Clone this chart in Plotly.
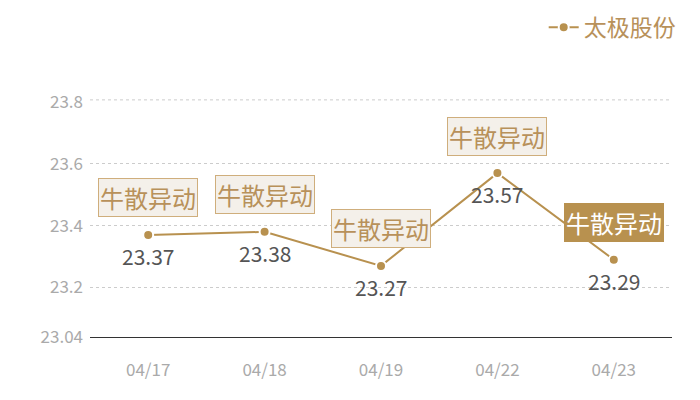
import plotly.graph_objects as go

dates = ["04/17", "04/18", "04/19", "04/22", "04/23"]
prices = [23.37, 23.38, 23.27, 23.57, 23.29]
tags = ["牛散异动", "牛散异动", "牛散异动", "牛散异动", "牛散异动"]
highlight = [False, False, False, False, True]
series_name = "太极股份"
y_ticks = [23.04, 23.2, 23.4, 23.6, 23.8]
y_tick_text = ["23.04", "23.2", "23.4", "23.6", "23.8"]

GOLD = "#b8914f"
FONT = "Noto Sans CJK SC"

fig = go.Figure()
fig.add_trace(go.Scatter(
    x=dates, y=prices, mode="lines+markers", name=series_name,
    line=dict(color=GOLD, width=2),
    marker=dict(color=GOLD, size=10, line=dict(color="white", width=2)),
    cliponaxis=False,
))

annotations = []
for d, p in zip(dates, prices):
    annotations.append(dict(
        x=d, y=p, xref="x", yref="y", text=f"{p:.2f}", showarrow=False,
        yshift=-21, font=dict(family=FONT, size=21, color="#555555"),
    ))
for d, p, t, h in zip(dates, prices, tags, highlight):
    annotations.append(dict(
        x=d, y=p, xref="x", yref="y", text=t, showarrow=False,
        yshift=37,
        font=dict(family=FONT, size=24, color="white" if h else "#b8915a"),
        bgcolor=GOLD if h else "#f4f0ea",
        bordercolor=GOLD if h else "#cfae7c",
        borderwidth=1, borderpad=1,
    ))

fig.update_layout(
    width=700, height=400,
    margin=dict(l=82, r=36, t=94, b=71),
    paper_bgcolor="white", plot_bgcolor="white",
    font=dict(family=FONT),
    showlegend=True,
    legend=dict(xref="container", yref="container", x=0.961, xanchor="right",
                y=0.952, yanchor="middle",
                orientation="h", font=dict(family=FONT, size=23, color="#b8915a"),
                bgcolor="rgba(0,0,0,0)"),
    annotations=annotations,
    xaxis=dict(type="category", range=[-0.5, 4.5], showgrid=False, zeroline=False,
               showline=True, linecolor="#333333", linewidth=1,
               tickfont=dict(family=FONT, size=17, color="#aaaaaa"),
               ticks="", ticklabelstandoff=18),
    yaxis=dict(range=[23.04, 23.8], tickvals=y_ticks, ticktext=y_tick_text,
               showgrid=True, gridcolor="#cccccc", griddash="dot", gridwidth=1,
               zeroline=False, showline=False,
               tickfont=dict(family=FONT, size=17, color="#aaaaaa"),
               ticks="", ticklabelstandoff=6),
    shapes=[
        dict(type="line", xref="paper", yref="paper", x0=0, x1=1, y0=1.009, y1=1.009,
             line=dict(color="#cccccc", width=1, dash="dot")),
    ],
)

fig.write_html("out.html")
